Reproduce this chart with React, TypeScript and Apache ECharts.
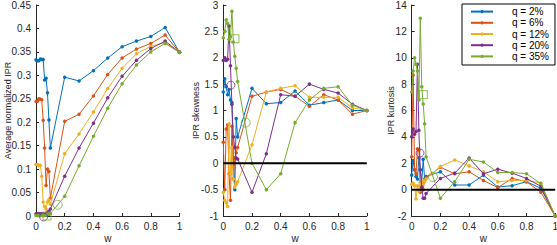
import React, { useEffect, useRef } from "react";
import * as echarts from "echarts";

const W = [0, 0.01, 0.02, 0.03, 0.04, 0.05, 0.06, 0.07, 0.08, 0.09, 0.1, 0.2, 0.3, 0.4, 0.5, 0.6, 0.7, 0.8, 0.9, 1.0];
const SERIES_NAMES = ["q = 2%", "q = 6%", "q = 12%", "q = 20%", "q = 35%"];
const COLORS = ["#0072BD", "#D95319", "#EDB120", "#7E2F8E", "#77AC30"];

// Panel 1: average normalized IPR
const iprQ2 = [0.333, 0.331, 0.331, 0.335, 0.334, 0.334, 0.29, 0.294, 0.263, 0.205, 0.145, 0.296, 0.288, 0.31, 0.337, 0.361, 0.373, 0.383, 0.402, 0.349];
const iprQ6 = [0.244, 0.245, 0.25, 0.249, 0.248, 0.204, 0.145, 0.065, 0.1, 0.095, 0.038, 0.202, 0.217, 0.256, 0.302, 0.337, 0.356, 0.368, 0.386, 0.349];
const iprQ12 = [0.11, 0.11, 0.108, 0.108, 0.085, 0.03, 0.02, 0.015, 0.03, 0.035, 0.025, 0.133, 0.175, 0.222, 0.272, 0.315, 0.346, 0.362, 0.37, 0.349];
const iprQ20 = [0.005, 0.005, 0.005, 0.005, 0.005, 0.005, 0.003, 0.005, 0.008, 0.01, 0.015, 0.085, 0.145, 0.198, 0.252, 0.298, 0.332, 0.357, 0.373, 0.349];
const iprQ35 = [0.001, 0.001, 0.001, 0.001, 0.001, 0.001, 0.001, 0.002, 0.003, 0.004, 0.005, 0.042, 0.107, 0.17, 0.23, 0.282, 0.322, 0.35, 0.368, 0.349];

// Panel 2: IPR skewness
const skQ2 = [1.35, 1.6, 1.45, 1.3, 1.4, 1.2, 1.15, 0.1, -0.5, 0.85, 0.5, 1.42, 1.13, 1.15, 1.37, 1.1, 1.15, 1.2, 1.0, 1.0];
const skQ6 = [0.4, -0.5, 0.65, 0.73, -0.2, -0.7, 0.7, -0.3, 0.1, 0.2, 0.3, 1.27, 1.35, 1.4, 1.27, 1.08, 1.3, 1.2, 0.93, 1.0];
const skQ12 = [-0.55, -0.7, -0.75, -0.82, 0.75, -0.2, 0.3, -0.3, -0.45, -0.4, -0.35, 0.35, 1.35, 1.42, 1.47, 1.25, 1.25, 1.25, 1.05, 1.0];
const skQ20 = [1.95, 2.0, 1.95, 1.97, 2.6, 1.85, 1.12, 0.5, 0.3, 0.1, 0.08, -0.55, 0.18, 1.3, 1.27, 1.5, 1.4, 1.33, 1.12, 1.0];
const skQ35 = [2.38, 2.5, 2.72, 2.65, 2.35, 2.4, 2.88, 2.3, 2.03, 1.8, 1.55, 0.0, -0.5, -0.2, 0.77, 1.2, 1.42, 1.45, 1.1, 1.0];

// Panel 3: IPR kurtosis
const kuQ2 = [1.1, 2.2, 1.5, 1.0, 0.8, 2.4, 1.5, 0.6, 2.3, 0.8, 1.0, 1.35, 0.35, 0.35, 1.1, 0.2, 0.3, 0.6, 0.1, -2];
const kuQ6 = [2.5, 8.7, 1.5, 1.2, 3.1, 3.0, -0.2, 0.5, 0.0, 0.7, 0.9, 1.7, 1.2, 1.35, 0.7, 0.15, 0.85, 0.6, -0.2, -2];
const kuQ12 = [0.4, 0.5, 0.3, -0.7, 0.3, -0.1, 0.5, 0.3, 0.7, 0.6, 0.8, 1.75, 2.25, 1.8, 1.35, 0.6, 0.7, 0.7, 0.5, -2];
const kuQ20 = [4.0, 4.6, 4.2, 4.4, 9.5, 4.5, 1.5, 0.2, -0.65, -0.65, -0.3, 0.85, 1.25, 2.4, 1.2, 1.55, 1.25, 0.85, 0.25, -2];
const kuQ35 = [7.4, 9.0, 10.0, 9.5, 9.0, 6.8, 13.0, 7.8, 6.5, 5.0, 2.5, -0.65, 0.6, 2.3, 2.1, 1.3, 1.3, 1.2, 0.45, -2];

// Highlighted points: [w, value] per panel
const purpleCircle = [[0.053, -0.002], [0.053, 1.48], [0.058, 2.78]];
const greenSquare = [[0.077, 0.0], [0.081, 2.36], [0.081, 7.2]];
const greenCircle = [[0.151, 0.024], [0.156, 0.77], [0.148, 0.96]];

const PANELS = [
  { name: "Average normalized IPR", min: 0, max: 0.45, interval: 0.05, data: [iprQ2, iprQ6, iprQ12, iprQ20, iprQ35], zero: false },
  { name: "IPR skewness", min: -1, max: 3, interval: 0.5, data: [skQ2, skQ6, skQ12, skQ20, skQ35], zero: true },
  { name: "IPR kurtosis", min: -2, max: 14, interval: 2, data: [kuQ2, kuQ6, kuQ12, kuQ20, kuQ35], zero: true },
];

const FONT = "'Liberation Sans', Arial, Helvetica, sans-serif";
const AX = "#262626";

export default function App() {
  const ref = useRef<HTMLDivElement>(null);
  useEffect(() => {
    if (!ref.current) return;
    const chart = echarts.init(ref.current, null, { renderer: "svg" });
    const lefts = [36, 223.3, 411.7];
    const nameGaps = [24, 23, 16];
    const grid = lefts.map((l) => ({ left: l, top: 5, width: 143.5, height: 211, outerBoundsMode: "none", containLabel: false }));
    const xAxis = lefts.map((_, i) => ({
      type: "value",
      gridIndex: i,
      min: 0,
      max: 1,
      interval: 0.2,
      name: "w",
      nameLocation: "middle",
      nameGap: 17,
      nameMoveOverlap: false,
      nameTextStyle: { color: AX, fontSize: 10, fontFamily: FONT },
      axisLine: { show: true, onZero: false, lineStyle: { color: AX, width: 1 } },
      axisTick: { show: true, inside: true, length: 3, lineStyle: { color: AX } },
      axisLabel: { color: AX, fontSize: 10, fontFamily: FONT, margin: 5 },
      splitLine: { show: false },
    }));
    const yAxis = PANELS.map((p, i) => ({
      type: "value",
      gridIndex: i,
      min: p.min,
      max: p.max,
      interval: p.interval,
      name: p.name,
      nameLocation: "middle",
      nameGap: nameGaps[i],
      nameMoveOverlap: false,
      nameTextStyle: { color: AX, fontSize: 9, fontFamily: FONT },
      axisLine: { show: true, onZero: false, lineStyle: { color: AX, width: 1 } },
      axisTick: { show: true, inside: true, length: 3, lineStyle: { color: AX } },
      axisLabel: { color: AX, fontSize: 10, fontFamily: FONT, margin: 5 },
      splitLine: { show: false },
    }));
    const series: any[] = [];
    PANELS.forEach((p, i) => {
      p.data.forEach((vals, k) => {
        series.push({
          type: "line",
          name: SERIES_NAMES[k],
          xAxisIndex: i,
          yAxisIndex: i,
          data: W.map((w, j) => [w, vals[j]]),
          symbol: "circle",
          symbolSize: 3.5,
          showSymbol: true,
          color: COLORS[k],
          lineStyle: { width: 1, color: COLORS[k] },
          itemStyle: { color: COLORS[k] },
          z: 2 + k,
        });
      });
      if (p.zero) {
        series.push({
          type: "line",
          name: "zero",
          xAxisIndex: i,
          yAxisIndex: i,
          data: [[0, 0], [1, 0]],
          symbol: "none",
          lineStyle: { color: "#000", width: 2 },
          silent: true,
          z: 10,
        });
      }
      const specials = [
        { d: purpleCircle[i], sym: "circle", c: COLORS[3], s: 8 },
        { d: greenSquare[i], sym: "rect", c: COLORS[4], s: 8 },
        { d: greenCircle[i], sym: "circle", c: COLORS[4], s: 9 },
      ];
      specials.forEach((sp, m) => {
        series.push({
          type: "scatter",
          name: "marker" + m,
          xAxisIndex: i,
          yAxisIndex: i,
          data: [sp.d],
          symbol: sp.sym,
          symbolSize: sp.s,
          itemStyle: { color: "rgba(0,0,0,0)", borderColor: sp.c, borderWidth: 1 },
          silent: true,
          clip: false,
          z: 12,
        });
      });
    });
    chart.setOption({
      animation: false,
      grid,
      xAxis,
      yAxis,
      legend: {
        data: SERIES_NAMES,
        orient: "vertical",
        left: 462,
        top: 4,
        backgroundColor: "#fff",
        borderColor: "#000",
        borderWidth: 1,
        borderRadius: 0,
        padding: [2, 6, 3, 8],
        itemGap: 0,
        itemWidth: 22,
        itemHeight: 4,
        textStyle: { color: "#000", fontSize: 10, fontFamily: FONT, padding: [0, 0, 0, 14], lineHeight: 11.2 },
      },
      series,
    });
    return () => chart.dispose();
  }, []);
  return <div ref={ref} style={{ position: "fixed", left: 0, top: 0, width: 557, height: 245, background: "#fff" }} />;
}
